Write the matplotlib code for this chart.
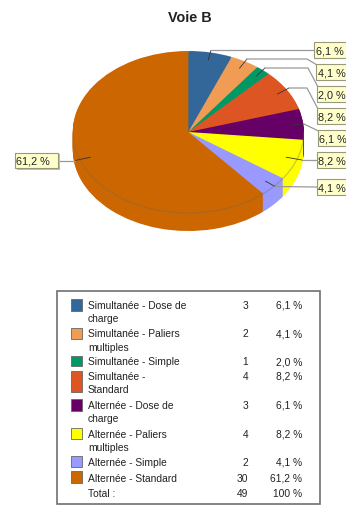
import numpy as np
import matplotlib
matplotlib.use("Agg")
import matplotlib.pyplot as plt
from matplotlib.patches import Arc, Rectangle

plt.rcParams['font.family'] = ['Liberation Sans', 'DejaVu Sans']

title = "Voie B"
names = ["Simultanée - Dose de\ncharge", "Simultanée - Paliers\nmultiples", "Simultanée - Simple",
         "Simultanée -\nStandard", "Alternée - Dose de\ncharge", "Alternée - Paliers\nmultiples",
         "Alternée - Simple", "Alternée - Standard"]
counts = [3, 2, 1, 4, 3, 4, 2, 30]
pcts = ["6,1 %", "4,1 %", "2,0 %", "8,2 %", "6,1 %", "8,2 %", "4,1 %", "61,2 %"]
total_count = 49
total_pct = "100 %"
colors = ["#336699", "#F09C55", "#009966", "#DD5522", "#660066", "#FFFF00", "#9999FF", "#CC6600"]

W, H = 346, 506
fig = plt.figure(figsize=(W / 100, H / 100), dpi=100, facecolor="white")

# pie geometry in pixels
cx, cy, rx, ry, depth = 188.3, 133, 115.5, 81, 18
ax = fig.add_axes([(cx - rx) / W, 1 - (cy + ry + depth) / H, 2 * rx / W, (2 * ry + depth) / H])
for d in np.arange(depth, 0, -1.0):
    ax.pie(counts, colors=colors, startangle=90, counterclock=False, center=(0, -d / ry),
           wedgeprops=dict(linewidth=0))
ax.pie(counts, colors=colors, startangle=90, counterclock=False, center=(0, 0),
       wedgeprops=dict(linewidth=0))
ax.add_patch(Arc((0, 0), 2, 2, theta1=180, theta2=360, color="#666666", alpha=0.3, lw=1))
ax.set_aspect("auto")
ax.set_xlim(-1, 1)
ax.set_ylim(-1 - depth / ry, 1)

ov = fig.add_axes([0, 0, 1, 1], facecolor="none")
ov.set_xlim(0, W)
ov.set_ylim(H, 0)
ov.axis("off")

ov.text(189.5, 17.5, title, ha="center", va="center", fontsize=10.4, fontweight="bold", color="#222222")

# leader lines and value boxes
elbows = [(211, 51), (247, 60), (265, 69), (289, 89), (304, 125), (302, 161), (275, 187.5), (75, 161.5)]
bends = [None, 307, 308, 307, None, None, None, None]
box_y = [51, 73, 95, 117, 139, 161, 188, 161.5]
box_x = [314, 316, 317, 317, 317.5, 317, 317, 15]
fracs = np.cumsum(counts) - np.array(counts) / 2
angles = fracs / sum(counts) * 2 * np.pi
for i, pct in enumerate(pcts):
    ax_x = cx + 0.9 * rx * np.sin(angles[i])
    ax_y = cy - 0.9 * ry * np.cos(angles[i])
    ex, ey = elbows[i]
    tx = 58 if i == 7 else box_x[i]
    ov.plot([ax_x, ex], [ax_y, ey], color="#333333", lw=0.6, solid_capstyle="butt")
    if bends[i] is not None:
        ov.plot([ex, bends[i], tx + 1], [ey, ey, box_y[i] - 7], color="#999999", lw=0.9)
    elif i == 4:
        ov.plot([ex, tx + 1], [ey, box_y[i] - 7], color="#999999", lw=0.9)
    else:
        ov.plot([ex, tx], [ey, box_y[i]], color="#999999", lw=0.9)
    w = 43 if i == 7 else 40
    ov.add_patch(Rectangle((box_x[i] + 1.5, box_y[i] - 6.5), w, 15.5, fc="#BBBBBB", ec="none", zorder=3))
    ov.add_patch(Rectangle((box_x[i], box_y[i] - 8), w, 15.5, fc="#FFFFCC", ec="#999977", lw=0.8, zorder=4))
    ov.text(box_x[i] + 1.5, box_y[i], pct, ha="left", va="center", fontsize=7.8, color="#222222", zorder=5)

# legend table
ov.add_patch(Rectangle((57, 292), 263, 213, fc="white", ec="#707070", lw=1.2))
text_y = [305.7, 334.3, 362.3, 376.7, 406, 435, 462.7, 478.7]
sw = [(300, 312), (329, 340), (357, 367), (372, 393), (400, 412), (429, 440), (457, 468), (472, 484)]
line_gap = 13.3
fs = 7.4
for i, name in enumerate(names):
    y0, y1 = sw[i]
    ov.add_patch(Rectangle((71, y0), 10.5, y1 - y0, fc=colors[i], ec="#666666", lw=0.6))
    for j, part in enumerate(name.split("\n")):
        ov.text(88, text_y[i] + j * line_gap, part, ha="left", va="center", fontsize=fs, color="#222222")
    ov.text(248, text_y[i], str(counts[i]), ha="right", va="center", fontsize=fs, color="#222222")
    ov.text(302, text_y[i], pcts[i], ha="right", va="center", fontsize=fs, color="#222222")
ov.text(88, 493.7, "Total :", ha="left", va="center", fontsize=fs, color="#222222")
ov.text(248, 493.7, str(total_count), ha="right", va="center", fontsize=fs, color="#222222")
ov.text(302, 493.7, total_pct, ha="right", va="center", fontsize=fs, color="#222222")

fig.savefig("out.png", dpi=100)
